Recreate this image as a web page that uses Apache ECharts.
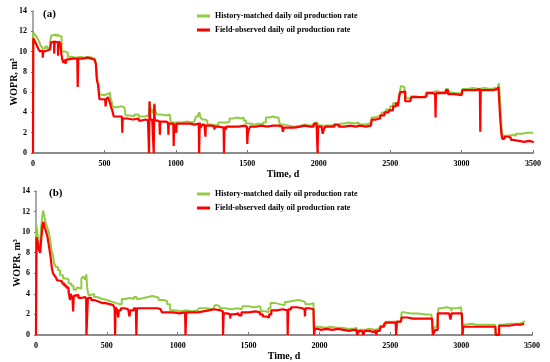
<!DOCTYPE html>
<html><head><meta charset="utf-8">
<script src="https://cdn.jsdelivr.net/npm/echarts@6/dist/echarts.min.js"></script>
<style>html,body{margin:0;padding:0;background:#fff}#c{width:550px;height:362px}</style>
</head><body><div id="c"></div>
<script>
const seriesNames = ['History-matched daily oil production rate', 'Field-observed daily oil production rate'];
const panelLabels = ['(a)', '(b)'];
const yTicks = [0, 2, 4, 6, 8, 10, 12, 14];
const xTicks = [0, 500, 1000, 1500, 2000, 2500, 3000, 3500];

const aGreen = [[0,0],[1,11.9],[12,11.7],[22,11.5],[32,11.3],[42,11.0],[50,10.7],[58,10.5],[70,10.3],[85,10.5],[100,10.3],[112,10.4],[120,11.0],[128,11.6],[145,11.7],[160,11.5],[172,11.7],[185,11.5],[200,10.0],[225,9.9],[243,9.5],[270,9.4],[300,9.5],[330,9.4],[360,9.5],[390,9.4],[415,9.3],[435,9.2],[442,8.6],[448,7.8],[452,7.0],[458,6.7],[462,6.2],[466,5.8],[480,5.7],[500,5.8],[520,5.8],[530,5.95],[540,5.6],[548,5.2],[556,4.7],[566,4.5],[590,4.6],[620,4.5],[640,4.4],[648,3.7],[680,3.6],[710,3.8],[740,3.6],[780,3.7],[810,3.6],[816,5.0],[820,4.3],[835,3.9],[848,4.4],[852,4.9],[856,4.1],[870,3.8],[900,3.7],[935,3.8],[958,3.6],[965,3.0],[1000,3.0],[1040,3.1],[1080,3.0],[1110,3.1],[1130,3.0],[1140,3.6],[1155,3.8],[1165,4.0],[1172,3.5],[1185,3.3],[1205,3.2],[1220,2.8],[1250,2.7],[1292,2.7],[1296,3.0],[1330,3.0],[1360,3.1],[1375,3.4],[1400,3.5],[1430,3.4],[1455,3.5],[1475,3.2],[1490,2.9],[1520,2.8],[1550,2.9],[1580,2.8],[1610,3.0],[1630,3.5],[1650,3.6],[1680,3.5],[1700,3.5],[1720,3.3],[1730,2.8],[1760,2.7],[1790,2.6],[1830,2.7],[1870,2.8],[1900,2.7],[1940,2.8],[1975,3.0],[1990,2.9],[2000,2.7],[2030,2.5],[2045,2.7],[2080,2.8],[2110,2.7],[2150,2.9],[2180,3.0],[2210,2.9],[2250,3.0],[2280,2.8],[2320,2.9],[2360,3.0],[2372,3.5],[2390,3.6],[2420,3.7],[2440,4.0],[2470,4.3],[2500,4.6],[2520,4.9],[2540,5.0],[2560,5.2],[2568,6.0],[2575,6.6],[2585,6.5],[2600,6.3],[2612,5.4],[2630,5.3],[2645,5.6],[2680,5.5],[2710,5.6],[2745,5.7],[2755,6.0],[2790,6.1],[2830,6.0],[2860,6.1],[2890,6.3],[2905,6.0],[2920,5.9],[2960,5.9],[2990,5.8],[3005,6.3],[3040,6.4],[3080,6.3],[3120,6.4],[3160,6.3],[3200,6.4],[3240,6.3],[3255,6.6],[3262,6.9],[3268,5.5],[3273,4.0],[3280,2.5],[3286,1.7],[3300,1.7],[3330,1.8],[3360,1.7],[3380,1.9],[3420,2.0],[3460,2.0],[3500,2.0]];

const aRed = [[0,0],[2,11.3],[10,11.1],[20,10.8],[30,10.5],[40,10.2],[50,10.0],[60,10.1],[68,9.4],[72,10.0],[85,10.1],[100,10.0],[112,10.2],[120,10.3],[126,10.9],[135,11.0],[148,9.8],[152,11.0],[165,10.9],[175,9.6],[180,11.0],[192,10.8],[198,9.8],[205,9.2],[212,8.9],[218,9.2],[228,8.8],[233,9.2],[245,9.3],[280,9.3],[310,9.4],[313,6.5],[317,9.3],[350,9.4],[380,9.3],[410,9.2],[430,9.1],[440,8.8],[445,7.5],[450,7.0],[455,6.8],[460,6.0],[465,5.3],[490,5.3],[505,5.2],[508,4.6],[512,5.3],[525,5.5],[532,5.6],[538,5.0],[545,4.6],[555,4.2],[565,3.6],[600,3.6],[622,3.5],[625,2.0],[628,3.4],[660,3.3],[700,3.4],[740,3.2],[760,3.3],[790,3.2],[805,3.1],[812,0],[816,5.1],[820,3.3],[835,3.1],[845,0],[849,4.8],[853,3.2],[870,3.1],[885,3.1],[888,1.8],[891,3.1],[930,3.0],[945,2.9],[948,1.8],[951,2.9],[982,2.9],[985,0.7],[988,2.9],[1000,2.9],[1003,2.0],[1006,2.9],[1050,2.9],[1100,2.8],[1130,2.9],[1160,2.8],[1163,0],[1167,3.0],[1172,2.5],[1185,2.8],[1200,2.7],[1207,1.6],[1210,2.7],[1250,2.6],[1270,2.3],[1274,2.6],[1300,2.5],[1334,2.6],[1337,0],[1340,2.6],[1350,2.3],[1354,2.6],[1400,2.6],[1440,2.7],[1480,2.6],[1497,2.5],[1500,0.9],[1503,1.8],[1510,2.3],[1520,2.6],[1560,2.7],[1600,2.6],[1640,2.7],[1680,2.7],[1720,2.6],[1745,2.4],[1750,2.1],[1755,2.5],[1790,2.5],[1830,2.6],[1870,2.7],[1900,2.6],[1940,2.6],[1965,2.9],[1985,2.8],[1992,0],[1996,2.6],[2020,2.5],[2028,1.9],[2035,2.3],[2045,2.6],[2080,2.6],[2110,2.8],[2140,2.6],[2180,2.7],[2220,2.6],[2260,2.7],[2290,2.6],[2330,2.7],[2365,2.6],[2372,3.3],[2400,3.4],[2430,3.7],[2460,4.0],[2490,4.2],[2520,4.6],[2540,4.9],[2555,4.6],[2562,5.5],[2570,6.0],[2590,6.1],[2605,5.1],[2640,5.2],[2650,5.5],[2700,5.5],[2740,5.6],[2755,5.9],[2800,5.8],[2815,5.9],[2818,3.5],[2821,5.9],[2860,5.9],[2890,6.2],[2905,5.8],[2950,5.7],[3000,5.7],[3005,6.2],[3050,6.2],[3100,6.3],[3128,6.2],[3131,2.1],[3134,6.2],[3180,6.2],[3220,6.3],[3250,6.3],[3258,6.5],[3264,5.0],[3270,3.5],[3278,2.0],[3285,1.4],[3300,1.6],[3330,1.5],[3345,1.3],[3360,1.2],[3400,1.1],[3440,1.2],[3470,1.1],[3500,1.0]];

const bGreen = [[0,0],[3,10.7],[12,9.6],[20,9.0],[28,8.6],[36,10.5],[44,11.5],[50,12.1],[58,11.6],[66,11.0],[76,10.6],[88,10.1],[100,9.3],[110,8.2],[118,7.8],[128,7.0],[140,6.6],[155,6.3],[170,5.8],[190,5.5],[210,5.4],[230,5.0],[250,4.8],[265,4.4],[285,4.6],[300,4.5],[312,4.5],[320,5.5],[333,5.7],[345,5.4],[355,5.9],[362,4.5],[370,3.9],[390,4.0],[410,3.7],[430,3.6],[450,3.5],[470,3.4],[500,3.3],[520,3.2],[545,3.1],[565,3.0],[590,3.0],[605,3.5],[630,3.6],[660,3.5],[690,3.7],[710,3.5],[725,3.6],[760,3.7],[790,3.8],[820,3.7],[850,3.6],[865,3.4],[900,3.3],[925,3.0],[945,2.4],[980,2.3],[1020,2.4],[1060,2.3],[1100,2.4],[1140,2.4],[1150,2.6],[1200,2.5],[1250,2.6],[1262,2.9],[1280,2.8],[1295,2.6],[1330,2.5],[1380,2.6],[1420,2.5],[1450,2.6],[1460,2.8],[1500,2.7],[1540,2.8],[1580,2.7],[1590,2.3],[1620,2.2],[1640,2.6],[1655,3.1],[1690,3.0],[1720,2.9],[1755,3.2],[1770,3.3],[1810,3.4],[1850,3.3],[1880,3.2],[1900,3.0],[1930,3.1],[1958,3.0],[1962,0.3],[1968,0.8],[2000,0.7],[2040,0.8],[2080,0.7],[2120,0.7],[2160,0.6],[2200,0.6],[2240,0.7],[2260,0.8],[2270,0.3],[2285,0.5],[2320,0.6],[2350,0.5],[2390,0.6],[2420,0.5],[2430,0.9],[2450,1.0],[2470,1.3],[2500,1.3],[2540,1.3],[2545,0.5],[2550,1.3],[2575,1.4],[2580,2.2],[2600,2.3],[2610,2.1],[2650,2.1],[2700,2.0],[2750,2.0],[2790,2.0],[2797,0.8],[2802,0.3],[2815,0.8],[2830,1.0],[2840,2.6],[2860,2.7],[2900,2.6],[2930,2.3],[2935,2.6],[2970,2.7],[3000,2.7],[3008,0.8],[3015,1.0],[3030,1.1],[3070,1.0],[3110,1.0],[3150,1.0],[3200,1.0],[3240,1.0],[3244,0.1],[3268,1.0],[3300,1.1],[3340,1.1],[3380,1.1],[3410,1.2],[3430,1.3],[3445,1.4]];

const bRed = [[0,0],[3,9.5],[12,9.0],[20,8.3],[30,8.0],[38,9.5],[46,10.6],[52,11.0],[60,10.5],[70,10.1],[80,9.6],[92,8.6],[104,7.5],[112,6.5],[120,6.0],[130,5.8],[140,5.6],[150,5.3],[165,5.2],[185,5.0],[200,4.8],[215,4.6],[230,4.2],[240,3.4],[245,4.0],[258,3.5],[262,2.3],[266,3.8],[280,3.9],[300,3.6],[320,3.7],[345,3.6],[354,3.5],[356,0],[362,0],[366,3.6],[390,3.4],[410,3.3],[430,3.2],[450,3.1],[470,3.1],[490,3.0],[520,2.9],[545,2.8],[555,2.6],[558,0],[562,2.7],[575,2.4],[580,1.7],[585,2.4],[600,2.6],[625,2.5],[650,2.4],[660,1.8],[665,2.4],[690,2.6],[705,2.3],[708,0],[712,2.6],[740,2.6],[780,2.6],[820,2.6],[860,2.5],[880,2.4],[888,2.2],[930,2.2],[970,2.1],[1010,2.2],[1052,2.1],[1055,0],[1060,2.2],[1100,2.2],[1140,2.3],[1180,2.4],[1220,2.5],[1260,2.4],[1300,2.3],[1318,2.3],[1320,0],[1324,2.1],[1350,2.0],[1370,1.6],[1374,2.0],[1400,2.1],[1430,1.9],[1450,2.2],[1500,2.3],[1550,2.2],[1580,2.0],[1600,1.8],[1625,1.7],[1645,2.0],[1660,2.4],[1700,2.5],[1740,2.4],[1774,2.4],[1776,0],[1780,2.5],[1800,2.7],[1840,2.6],[1880,2.5],[1895,2.6],[1898,1.8],[1901,2.6],[1930,2.5],[1958,2.4],[1962,0],[1968,0.6],[1990,0.5],[2010,0.6],[2050,0.5],[2090,0.6],[2130,0.5],[2170,0.4],[2210,0.5],[2240,0.5],[2262,0.3],[2268,0.0],[2275,0.4],[2300,0.3],[2310,0.0],[2318,0.4],[2350,0.3],[2380,0.4],[2400,0.0],[2408,0.4],[2425,0.4],[2432,0.8],[2455,1.0],[2465,1.2],[2500,1.2],[2538,1.2],[2541,0],[2545,1.3],[2575,1.4],[2580,1.7],[2620,1.6],[2660,1.6],[2700,1.6],[2750,1.6],[2795,1.6],[2800,0],[2810,0.3],[2820,0.5],[2835,2.1],[2870,2.1],[2915,2.1],[2925,1.5],[2932,2.1],[2970,2.1],[3005,2.1],[3010,0],[3015,0.8],[3050,0.8],[3100,0.8],[3150,0.8],[3200,0.8],[3242,0.8],[3244,0],[3268,0.9],[3300,0.9],[3340,1.0],[3380,1.0],[3420,1.1],[3445,1.1]];

const GREEN = '#92cc47', RED = '#ff0000';
const FONT = 'Liberation Serif';
const chart = echarts.init(document.getElementById('c'), null, {renderer: 'canvas'});

function xAxis(gi) {
  return {
    type: 'value', gridIndex: gi, min: 0, max: 3500, interval: 500,
    name: 'Time, d', nameLocation: 'middle', nameGap: 16, nameMoveOverlap: false,
    nameTextStyle: {fontFamily: FONT, fontWeight: 'bold', fontSize: 10, color: '#000'},
    axisLine: {show: true, lineStyle: {color: '#8c8c8c', width: 2}},
    axisTick: {show: true, inside: true, length: 3, lineStyle: {color: '#777'}},
    axisLabel: {fontFamily: FONT, fontWeight: 'bold', fontSize: 8, color: '#000', margin: 7,
      formatter: v => xTicks.includes(v) ? String(v) : ''},
    splitLine: {show: false}
  };
}
function yAxis(gi) {
  return {
    type: 'value', gridIndex: gi, min: 0, max: 14, interval: 2,
    name: 'WOPR, m³', nameLocation: 'middle', nameGap: 14, nameMoveOverlap: false,
    nameTextStyle: {fontFamily: FONT, fontWeight: 'bold', fontSize: 10, color: '#000'},
    axisLine: {show: true, lineStyle: {color: '#8c8c8c', width: 1.5}},
    axisTick: {show: true, inside: false, length: 2, lineStyle: {color: '#777'}},
    axisLabel: {fontFamily: FONT, fontWeight: 'bold', fontSize: 8, color: '#000', margin: 6,
      formatter: v => yTicks.includes(v) ? String(v) : ''},
    splitLine: {show: false}
  };
}
function line(name, data, gi, color, z, w) {
  return {
    name, type: 'line', xAxisIndex: gi, yAxisIndex: gi, data, step: 'end',
    showSymbol: false, symbol: 'none', color, z,
    lineStyle: {color, width: w}, animation: false
  };
}
function legend(top) {
  return {
    data: seriesNames, orient: 'vertical', left: 197, top, itemGap: 4, padding: 0,
    icon: 'rect', itemWidth: 13, itemHeight: 3,
    textStyle: {fontFamily: FONT, fontWeight: 'bold', fontSize: 8, color: '#000', lineHeight: 10}
  };
}

chart.setOption({
  animation: false,
  backgroundColor: '#fff',
  grid: [
    {left: 33, right: 17, top: 11, height: 142, containLabel: false, outerBoundsMode: 'none'},
    {left: 36, right: 18, top: 191, height: 144, containLabel: false, outerBoundsMode: 'none'}
  ],
  xAxis: [xAxis(0), xAxis(1)],
  yAxis: [yAxis(0), yAxis(1)],
  legend: [legend(11), legend(189)],
  graphic: [
    {type: 'text', left: 43, top: 9, style: {text: panelLabels[0], font: 'bold 11px "Liberation Serif"', fill: '#000'}},
    {type: 'text', left: 49, top: 188, style: {text: panelLabels[1], font: 'bold 11px "Liberation Serif"', fill: '#000'}}
  ],
  series: [
    line(seriesNames[0], aGreen, 0, GREEN, 2, 2),
    line(seriesNames[1], aRed, 0, RED, 3, 2.2),
    line(seriesNames[0], bGreen, 1, GREEN, 2, 2),
    line(seriesNames[1], bRed, 1, RED, 3, 2.2)
  ]
});
</script></body></html>
